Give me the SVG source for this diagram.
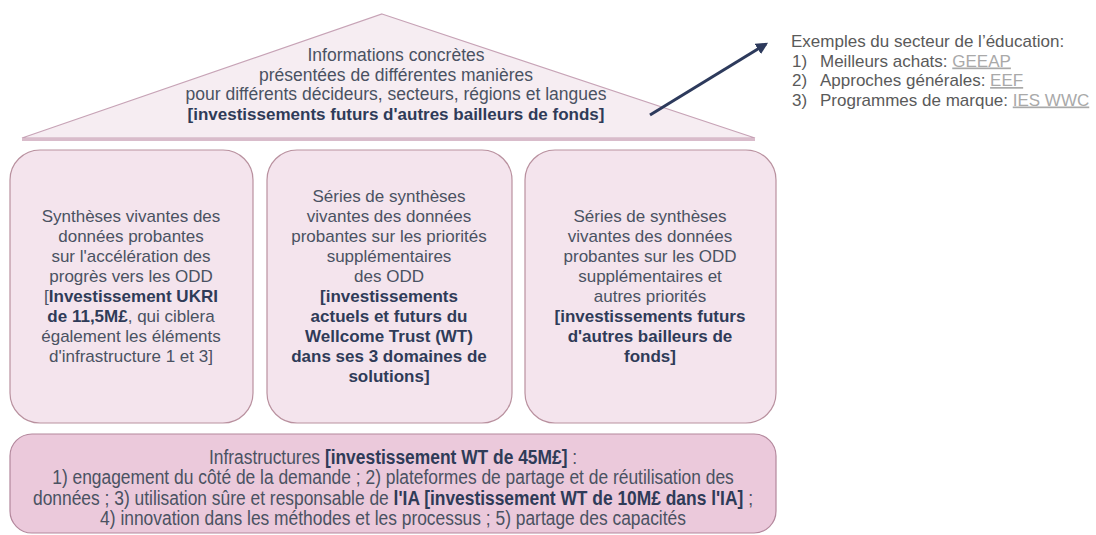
<svg xmlns="http://www.w3.org/2000/svg" width="1096" height="535" viewBox="0 0 1096 535">
<defs>
<style>
.t{font-family:"Liberation Sans",Arial,sans-serif;fill:#4a5262;text-anchor:middle}
.b{font-weight:bold;fill:#2f3b58}
.box{fill:#f4e4ed;stroke:#b9919f;stroke-width:1.2}
.ex{font-family:"Liberation Sans",Arial,sans-serif;fill:#5a5a5a;font-size:17px}
.lk{fill:#a9a9a9;text-decoration:underline}
</style>
<marker id="ah" viewBox="0 0 10 10" refX="8" refY="5" markerWidth="4" markerHeight="4" orient="auto">
<path d="M0,0 L10,5 L0,10 z" fill="#2d3a5c"/>
</marker>
</defs>
<rect width="1096" height="535" fill="#ffffff"/>
<g id="roof">
<polygon points="382,14 755,138 22,138" fill="#f6edf2" stroke="#c7a3b6" stroke-width="1.2"/>
<line x1="22" y1="139.5" x2="755" y2="139.5" stroke="#d9bccb" stroke-width="3"/>
<text class="t" font-size="17.5"><tspan x="396" y="61">Informations concrètes</tspan><tspan x="396" y="81">présentées de différentes manières</tspan><tspan x="396" y="100">pour différents décideurs, secteurs, régions et langues</tspan><tspan x="396" y="120" class="b" font-size="17">[investissements futurs d'autres bailleurs de fonds]</tspan></text>
</g>
<g id="box1">
<rect class="box" x="10" y="150" width="243" height="273" rx="30"/>
<text class="t" font-size="17"><tspan x="131" y="222">Synthèses vivantes des</tspan><tspan x="131" y="242">données probantes</tspan><tspan x="131" y="262">sur l'accélération des</tspan><tspan x="131" y="282">progrès vers les ODD</tspan><tspan x="131" y="302">[<tspan class="b">Investissement UKRI</tspan></tspan><tspan x="131" y="322"><tspan class="b">de 11,5M£</tspan>, qui ciblera</tspan><tspan x="131" y="342">également les éléments</tspan><tspan x="131" y="362">d'infrastructure 1 et 3]</tspan></text>
</g>
<g id="box2">
<rect class="box" x="267" y="150" width="245" height="273" rx="30"/>
<text class="t" font-size="17"><tspan x="389" y="202">Séries de synthèses</tspan><tspan x="389" y="222">vivantes des données</tspan><tspan x="389" y="242">probantes sur les priorités</tspan><tspan x="389" y="262">supplémentaires</tspan><tspan x="389" y="282">des ODD</tspan><tspan x="389" y="302" class="b">[investissements</tspan><tspan x="389" y="322" class="b">actuels et futurs du</tspan><tspan x="389" y="342" class="b">Wellcome Trust (WT)</tspan><tspan x="389" y="362" class="b">dans ses 3 domaines de</tspan><tspan x="389" y="382" class="b">solutions]</tspan></text>
</g>
<g id="box3">
<rect class="box" x="525" y="150" width="251" height="273" rx="30"/>
<text class="t" font-size="17"><tspan x="650" y="222">Séries de synthèses</tspan><tspan x="650" y="242">vivantes des données</tspan><tspan x="650" y="262">probantes sur les ODD</tspan><tspan x="650" y="282">supplémentaires et</tspan><tspan x="650" y="302">autres priorités</tspan><tspan x="650" y="322" class="b">[investissements futurs</tspan><tspan x="650" y="342" class="b">d'autres bailleurs de</tspan><tspan x="650" y="362" class="b">fonds]</tspan></text>
</g>
<g id="infra">
<rect x="10" y="434" width="766" height="99" rx="22" fill="#ebc9db" stroke="#b3879c" stroke-width="1.2"/>
<g transform="translate(393,0) scale(0.87,1)">
<text class="t" font-size="20"><tspan x="0" y="464">Infrastructures <tspan class="b">[investissement WT de 45M£]</tspan> :</tspan><tspan x="0" y="484.5">1) engagement du côté de la demande ; 2) plateformes de partage et de réutilisation des</tspan><tspan x="0" y="505">données ; 3) utilisation sûre et responsable de <tspan class="b">l'IA [investissement WT de 10M£ dans l'IA]</tspan> ;</tspan><tspan x="0" y="525.5">4) innovation dans les méthodes et les processus ; 5) partage des capacités</tspan></text>
</g>
</g>
<g id="examples">
<text class="ex" x="791" y="47">Exemples du secteur de l’éducation:</text>
<text class="ex" x="792" y="66.5">1)</text><text class="ex" x="820" y="66.5">Meilleurs achats: <tspan class="lk">GEEAP</tspan></text>
<text class="ex" x="792" y="86">2)</text><text class="ex" x="820" y="86">Approches générales: <tspan class="lk">EEF</tspan></text>
<text class="ex" x="792" y="105.5">3)</text><text class="ex" x="820" y="105.5">Programmes de marque: <tspan class="lk">IES WWC</tspan></text>
</g>
<g id="connectors">
<line x1="650" y1="115" x2="766" y2="44" stroke="#2d3a5c" stroke-width="3" marker-end="url(#ah)"/>
</g>
</svg>
